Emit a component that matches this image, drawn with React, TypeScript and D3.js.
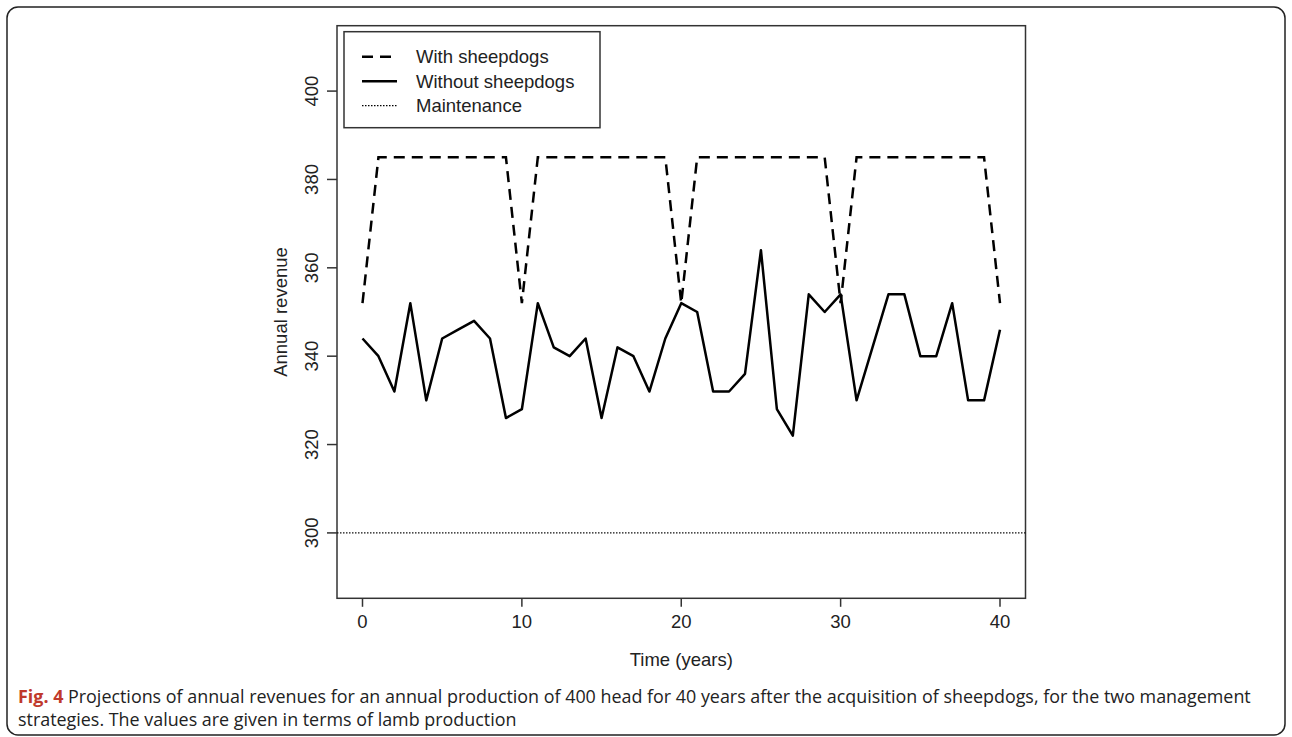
import React from 'react';
import * as d3 from 'd3';

// values, one per year 0..40
const years = d3.range(0, 41);
const withDogs = [
  352, 385, 385, 385, 385, 385, 385, 385, 385, 385,
  352, 385, 385, 385, 385, 385, 385, 385, 385, 385,
  352, 385, 385, 385, 385, 385, 385, 385, 385, 385,
  352, 385, 385, 385, 385, 385, 385, 385, 385, 385,
  352,
];
const withoutDogs = [
  344, 340, 332, 352, 330, 344, 346, 348, 344, 326,
  328, 352, 342, 340, 344, 326, 342, 340, 332, 344,
  352, 350, 332, 332, 336, 364, 328, 322, 354, 350,
  354, 330, 342, 354, 354, 340, 340, 352, 330, 330,
  346,
];
const maintenance = 300;
const xTicks = [0, 10, 20, 30, 40];
const yTicks = [300, 320, 340, 360, 380, 400];
const legendItems = [
  { label: 'With sheepdogs', dash: '11 7', width: 2.5 },
  { label: 'Without sheepdogs', dash: null, width: 2.5 },
  { label: 'Maintenance', dash: '1.5 1.5', width: 1.2 },
];

const W = 1292;
const H = 737;
const box = { left: 337, right: 1025.5, top: 25.7, bottom: 598.3 };
const rFont = '"Liberation Sans", Arial, Helvetica, sans-serif';
const capFont = '"Open Sans", "Noto Sans", sans-serif';

export default function App() {
  // R style axes: limits padded by 4%
  const x = d3.scaleLinear().domain([-1.6, 41.6]).range([box.left, box.right]);
  const y = d3.scaleLinear().domain([285.2, 414.8]).range([box.bottom, box.top]);

  const line = d3.line<number>()
    .x((_, i) => x(years[i]))
    .y(d => y(d));

  const lx = 344;
  const ly = 31.7;

  return (
    <svg width={W} height={H} style={{ position: 'fixed', left: 0, top: 0, background: '#fff' }}>
      <rect x={7} y={7} width={1278} height={728} rx={11} fill="none" stroke="#222" strokeWidth={1.5} />

      {/* plot box */}
      <rect x={box.left} y={box.top} width={box.right - box.left} height={box.bottom - box.top}
        fill="none" stroke="#333" strokeWidth={1.5} />

      {/* maintenance level */}
      <line x1={box.left} x2={box.right} y1={y(maintenance)} y2={y(maintenance)}
        stroke="#111" strokeWidth={1.3} strokeDasharray="1.5 1.5" />

      <path d={line(withoutDogs) || ''} fill="none" stroke="#000" strokeWidth={2.5} strokeLinejoin="round" />
      <path d={line(withDogs) || ''} fill="none" stroke="#000" strokeWidth={2.5} strokeDasharray="11 7" />

      {/* x axis */}
      {xTicks.map(t => (
        <g key={'x' + t}>
          <line x1={x(t)} x2={x(t)} y1={box.bottom} y2={box.bottom + 8.5} stroke="#333" strokeWidth={1.5} />
          <text x={x(t)} y={box.bottom + 30} textAnchor="middle" fontFamily={rFont} fontSize={18.5} fill="#222">{t}</text>
        </g>
      ))}
      <text x={(box.left + box.right) / 2} y={666} textAnchor="middle" fontFamily={rFont} fontSize={18.5} fill="#222">Time (years)</text>

      {/* y axis */}
      {yTicks.map(t => (
        <g key={'y' + t}>
          <line x1={box.left - 10} x2={box.left} y1={y(t)} y2={y(t)} stroke="#333" strokeWidth={1.5} />
          <text transform={`translate(${box.left - 19},${y(t)}) rotate(-90)`} textAnchor="middle"
            fontFamily={rFont} fontSize={18.5} fill="#222">{t}</text>
        </g>
      ))}
      <text transform={`translate(287,${(box.top + box.bottom) / 2}) rotate(-90)`} textAnchor="middle"
        fontFamily={rFont} fontSize={18.5} fill="#222">Annual revenue</text>

      {/* legend */}
      <rect x={lx} y={ly} width={256} height={96} fill="#fff" stroke="#333" strokeWidth={1.5} />
      {legendItems.map((it, i) => (
        <g key={it.label}>
          <line x1={lx + 18} x2={lx + 53} y1={ly + 25 + i * 24.5} y2={ly + 25 + i * 24.5}
            stroke="#000" strokeWidth={it.width} strokeDasharray={it.dash || undefined} />
          <text x={lx + 72} y={ly + 25 + i * 24.5 + 6.5} fontFamily={rFont} fontSize={18.5} fill="#222">{it.label}</text>
        </g>
      ))}

      {/* caption */}
      <text x={18} y={703} fontFamily={capFont} fontSize={17.9} fill="#222">
        <tspan fontWeight="bold" fill="#c0392b">Fig. 4</tspan>
        <tspan> Projections of annual revenues for an annual production of 400 head for 40 years after the acquisition of sheepdogs, for the two management</tspan>
      </text>
      <text x={18} y={726} fontFamily={capFont} fontSize={17.9} fill="#222">
        strategies. The values are given in terms of lamb production
      </text>
    </svg>
  );
}
